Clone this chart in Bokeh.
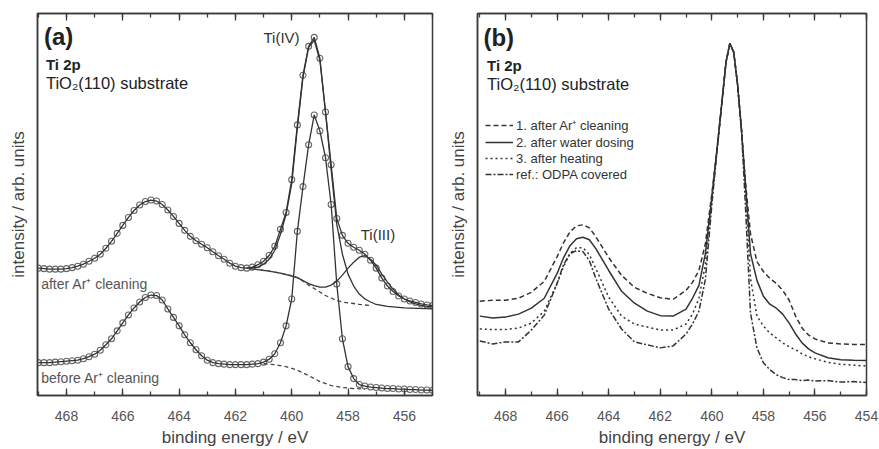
from bokeh.plotting import figure
from bokeh.models import (Range1d, LinearAxis, SingleIntervalTicker, FixedTicker,
                          Label, Legend, LegendItem, CustomJSTickFormatter)
from bokeh.layouts import row
from bokeh.embed import file_html
from bokeh.resources import INLINE

FONT = "Liberation Sans"

# ---------------- panel (a) data: Ti 2p, TiO2(110) ----------------
energy_a = [469.0, 468.8, 468.6, 468.4, 468.2, 468.0, 467.8, 467.6, 467.4, 467.2,
            467.0, 466.8, 466.6, 466.4, 466.2, 466.0, 465.8, 465.6, 465.4, 465.2,
            465.0, 464.8, 464.6, 464.4, 464.2, 464.0, 463.8, 463.6, 463.4, 463.2,
            463.0, 462.8, 462.6, 462.4, 462.2, 462.0, 461.8, 461.6, 461.4, 461.2,
            461.0, 460.8, 460.6, 460.4, 460.2, 460.0, 459.8, 459.6, 459.4, 459.2,
            459.0, 458.8, 458.6, 458.4, 458.2, 458.0, 457.8, 457.6, 457.4, 457.2,
            457.0, 456.8, 456.6, 456.4, 456.2, 456.0, 455.8, 455.6, 455.4, 455.2,
            455.0]
after_ar = [128, 127.5, 127, 127, 127, 127.5, 128.5, 130, 132, 135,
            138, 142, 148, 155, 163, 171, 179, 186, 191.5, 195,
            196.5, 195.5, 192, 186.5, 180, 173, 166, 160, 155.5, 152,
            148.5, 144.5, 140.5, 137, 133, 130, 128.5, 128, 129, 131.5,
            135, 141, 150, 167, 184, 217, 272, 322, 351, 360,
            339, 285, 232, 178, 161, 153, 149, 146, 142, 136,
            128, 118, 110, 104.5, 100, 97, 95, 93.5, 92, 91,
            90.3]
before_ar = [33, 33, 33, 33.5, 34, 34.5, 35, 35.5, 37, 39,
             41.5, 45.5, 51, 57, 65, 73, 81, 88, 94, 98.5,
             101, 100.5, 96, 87, 78.5, 70, 61, 53, 46, 40,
             35.5, 33, 32, 31.5, 31, 31, 31, 31, 31.5, 32,
             33.5, 36.5, 42, 53, 70, 97, 165, 210, 252, 282,
             266, 239, 192, 112, 57, 29, 17, 11, 9.5, 8.5,
             8, 7.5, 7, 7, 6.5, 6.5, 6, 6, 5.5, 5.5,
             5.3]

# fit components, after Ar+ cleaning
e_ti3 = [461.6, 461.2, 460.8, 460.4, 460.0, 459.8, 459.6, 459.4, 459.2, 459.0,
         458.8, 458.6, 458.4, 458.2, 458.0, 457.8, 457.6, 457.4, 457.2, 457.0,
         456.8, 456.6, 456.4, 456.2, 456.0, 455.8, 455.6, 455.4, 455.2, 455.0]
ti3_comp = [128, 126.5, 125, 123, 120, 118.5, 115.5, 112.5, 110.5, 109,
            109, 111, 115, 121, 128, 134, 139, 140.5, 137, 131,
            122, 114, 107, 101, 97, 94, 92, 90.5, 89.5, 89]
e_bg_up = [461.6, 461.2, 460.8, 460.4, 460.0, 459.8, 459.6, 459.4, 459.2, 459.0,
           458.8, 458.6, 458.4, 458.2, 458.0, 457.8, 457.6, 457.4, 457.2]
bg_up = [128, 126.5, 125, 123, 120.5, 118.5, 115, 111, 107.5, 104,
         100.5, 98, 95.5, 94, 93, 92.5, 91.5, 91, 90.5]
e_ti4 = [461.6, 461.2, 461.0, 460.8, 460.6, 460.4, 460.2, 460.0, 459.8, 459.6,
         459.4, 459.2, 459.0, 458.8, 458.6, 458.4, 458.2, 458.0, 457.8, 457.6,
         457.4, 457.2, 457.0, 456.6, 456.0, 455.0]
ti4_comp = [128, 129, 132, 137, 146, 162, 182, 213, 269, 320,
            350, 357, 337, 285, 227, 172, 142, 122, 110, 102,
            97, 94, 91.5, 89.5, 88, 87]
# background, before Ar+ cleaning
e_bg_low = [461.0, 460.6, 460.2, 459.8, 459.4, 459.0, 458.6, 458.2, 457.8, 457.4]
bg_low = [32, 31, 29, 25.5, 20, 14, 10, 8, 7, 6.5]

# ---------------- panel (b) data ----------------
energy_b = [469.0, 468.5, 468.0, 467.5, 467.0, 466.5, 466.0, 465.75, 465.5, 465.25,
            465.0, 464.75, 464.5, 464.0, 463.5, 463.0, 462.5, 462.0, 461.5, 461.0,
            460.75, 460.5, 460.25, 460.0, 459.8, 459.6, 459.45, 459.3, 459.15, 459.0,
            458.85, 458.7, 458.5, 458.25, 458.0, 457.75, 457.5, 457.25, 457.0, 456.75,
            456.5, 456.25, 456.0, 455.5, 455.0, 454.5, 454.0]
s1_after_ar = [95, 96, 96, 98, 104, 115, 140, 154, 165, 171,
               172, 169, 160, 139, 121, 109, 103, 98.5, 97, 106,
               114, 126, 153, 203, 248, 298, 336, 354, 346, 313,
               268, 216, 163, 135, 125, 118, 113, 106, 96, 80,
               68, 61, 57, 53, 52, 51.5, 51.3]
s2_water = [80, 78, 79, 82, 88, 98, 123, 139, 151, 158,
            159.5, 157, 148, 126, 105, 93, 85, 80.5, 80, 87,
            98, 111, 143, 200, 248, 298, 336, 355, 346, 313,
            268, 214, 143, 116, 100, 92, 88, 82, 73, 62,
            53, 47, 43, 38, 36, 35.5, 35.3]
s3_heating = [67, 66.5, 66.5, 68, 73, 85, 113, 130, 143, 149,
              149, 142, 128, 99, 80, 72, 69, 66, 66, 72,
              82, 98, 132, 197, 247, 298, 336, 355, 346, 313,
              268, 213, 118, 80, 70, 63, 58, 53, 49, 46,
              42, 39, 37, 33.5, 31.5, 30.5, 29.7]
ref_odpa = [55, 52, 54, 54, 66, 81, 113, 132, 143, 146,
            145, 136, 118, 87, 67, 54, 51, 48, 50, 62,
            72, 85, 117, 192, 246, 297, 336, 355, 346, 313,
            268, 193, 83, 48, 33, 26, 21, 18, 16, 16,
            15, 15.5, 14.5, 15, 13.5, 14, 13]

legend_labels = ["1. after Ar\u207a cleaning", "2. after water dosing",
                 "3. after heating", "ref.: ODPA covered"]
x_ticks_interval = 2

LINE = "#333333"
AXC = "#3a3a3a"
TXT = "#444444"


def style(p):
    p.outline_line_color = AXC
    p.outline_line_width = 1.5
    p.xgrid.visible = False
    p.ygrid.visible = False
    p.background_fill_color = "white"
    p.border_fill_color = "white"
    for ax in p.xaxis:
        ax.ticker = SingleIntervalTicker(interval=x_ticks_interval, num_minor_ticks=2)
        ax.major_tick_in = 7
        ax.major_tick_out = 0
        ax.minor_tick_in = 4
        ax.minor_tick_out = 0
        ax.major_tick_line_color = AXC
        ax.minor_tick_line_color = AXC
        ax.major_tick_line_width = 1.3
        ax.minor_tick_line_width = 1.3
        ax.axis_line_color = AXC
        ax.axis_line_width = 1.5
        ax.major_label_text_font = FONT
        ax.major_label_text_font_size = "14px"
        ax.major_label_text_color = "#555555"
        ax.major_label_standoff = 15
        ax.axis_label = "binding energy / eV"
        ax.axis_label_text_font = FONT
        ax.axis_label_text_font_size = "17px"
        ax.axis_label_text_font_style = "normal"
        ax.axis_label_text_color = TXT
        ax.axis_label_standoff = 4
    top = LinearAxis(ticker=SingleIntervalTicker(interval=x_ticks_interval, num_minor_ticks=2),
                     formatter=CustomJSTickFormatter(code="return ''"),
                     major_tick_in=7, major_tick_out=0, minor_tick_in=4, minor_tick_out=0,
                     major_tick_line_color=AXC, minor_tick_line_color=AXC,
                     major_tick_line_width=1.3, minor_tick_line_width=1.3,
                     axis_line_color=AXC, axis_line_width=1.5,
                     major_label_text_font_size="0px", major_label_standoff=0)
    p.add_layout(top, "above")
    for ax in p.yaxis:
        ax.ticker = FixedTicker(ticks=[])
        ax.minor_tick_line_color = None
        ax.major_tick_line_color = None
        ax.axis_line_color = AXC
        ax.axis_line_width = 1.5
        ax.major_label_text_font_size = "0px"
        ax.major_label_standoff = 0
        ax.axis_label = "intensity / arb. units"
        ax.axis_label_text_font = FONT
        ax.axis_label_text_font_size = "17px"
        ax.axis_label_text_font_style = "normal"
        ax.axis_label_text_color = TXT
        ax.axis_label_standoff = 10


def lab(p, x, y, text, size, bold=False, align="left", color="#222222"):
    p.add_layout(Label(x=x, y=y, text=text, text_font=FONT, text_font_size=size,
                       text_font_style="bold" if bold else "normal",
                       text_align=align, text_baseline="middle", text_color=color))


# ---------------- figure (a) ----------------
pa = figure(width=440, height=449, x_range=Range1d(469.03, 455.0), y_range=Range1d(0, 384),
            output_backend="svg", toolbar_location=None,
            min_border_left=37, min_border_right=8, min_border_top=13, min_border_bottom=52)
style(pa)

pa.scatter(energy_a, after_ar, marker="circle", size=6, fill_color=None,
           line_color="#666666", line_width=1.1)
pa.scatter(energy_a, before_ar, marker="circle", size=6, fill_color=None,
           line_color="#666666", line_width=1.1)
pa.line(energy_a, after_ar, line_color=LINE, line_width=1.3)
pa.line(energy_a, before_ar, line_color=LINE, line_width=1.3)
pa.line(e_ti3, ti3_comp, line_color=LINE, line_width=1.3)
pa.line(e_ti4, ti4_comp, line_color=LINE, line_width=1.3)
pa.line(e_bg_up, bg_up, line_color="#444444", line_width=1.3, line_dash="4 3")
pa.line(e_bg_low, bg_low, line_color="#444444", line_width=1.3, line_dash="4 3")

lab(pa, 468.8, 361, "(a)", "24px", bold=True)
lab(pa, 468.73, 333, "Ti 2p", "15px", bold=True)
lab(pa, 468.73, 314, "TiO\u2082(110) substrate", "16.5px")
lab(pa, 459.72, 360, "Ti(IV)", "15px", align="right", color="#333333")
lab(pa, 457.55, 162, "Ti(III)", "15px", color="#333333")
lab(pa, 468.9, 112, "after Ar\u207a cleaning", "14px", color="#555555")
lab(pa, 468.9, 18, "before Ar\u207a cleaning", "14px", color="#555555")

# ---------------- figure (b) ----------------
pb = figure(width=439, height=449, x_range=Range1d(469.09, 454.0), y_range=Range1d(0, 385),
            output_backend="svg", toolbar_location=None,
            min_border_left=37, min_border_right=13, min_border_top=13, min_border_bottom=51)
style(pb)

r1 = pb.line(energy_b, s1_after_ar, line_color=LINE, line_width=1.5, line_dash="5 3")
r2 = pb.line(energy_b, s2_water, line_color=LINE, line_width=1.5)
r3 = pb.line(energy_b, s3_heating, line_color=LINE, line_width=1.5, line_dash="2 3")
r4 = pb.line(energy_b, ref_odpa, line_color=LINE, line_width=1.5, line_dash="6 2 2 2")

legend = Legend(items=[LegendItem(label=legend_labels[i], renderers=[r])
                       for i, r in enumerate([r1, r2, r3, r4])],
                location=(8, 213), border_line_color=None, background_fill_alpha=0,
                label_text_font=FONT, label_text_font_size="13px", label_text_color="#333333",
                glyph_width=28, glyph_height=16, label_height=16, label_standoff=3,
                spacing=0, padding=0, margin=0)
pb.add_layout(legend)

lab(pb, 468.86, 361, "(b)", "24px", bold=True)
lab(pb, 468.72, 333, "Ti 2p", "15px", bold=True)
lab(pb, 468.72, 314, "TiO\u2082(110) substrate", "16.5px")

layout = row(pa, pb)
open("out.html", "w").write(file_html(layout, INLINE))
